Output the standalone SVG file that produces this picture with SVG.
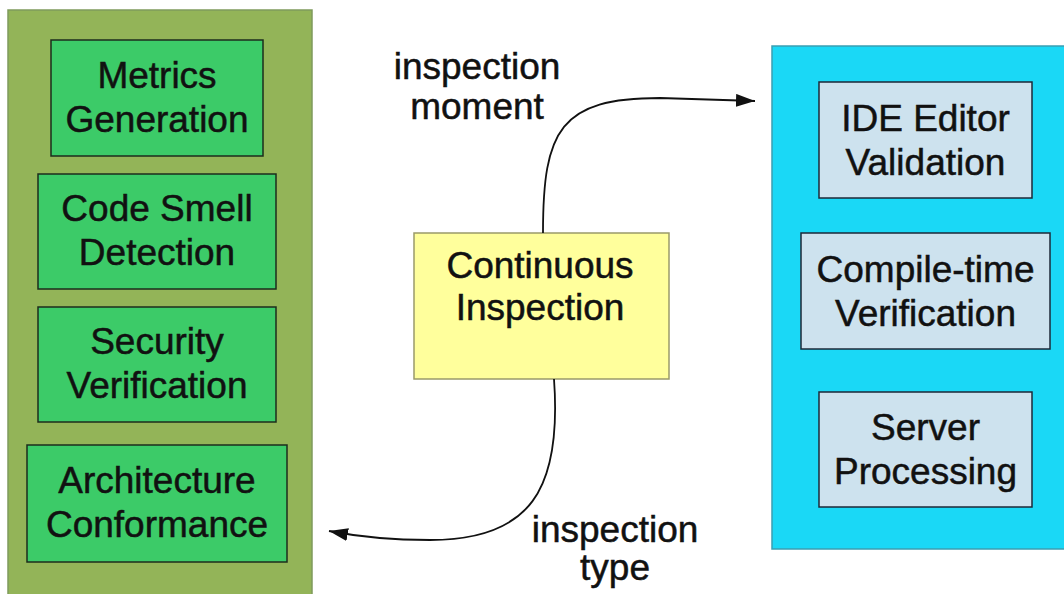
<svg xmlns="http://www.w3.org/2000/svg" width="1064" height="594" viewBox="0 0 1064 594">
  <style>
    text { font-family: "Liberation Sans", Arial, Helvetica, sans-serif; font-size: 37px; fill: #111; stroke: #111; stroke-width: 0.5; text-anchor: middle; }
    .panel-type { fill: #93b458; stroke: #7f9a5c; stroke-width: 1.5; }
    .panel-moment { fill: #1ad8f6; stroke: #3a9fb2; stroke-width: 1.5; }
    .type-box { fill: #3ccb68; stroke: #1c2c1c; stroke-width: 1.5; }
    .moment-box { fill: #cde2ee; stroke: #1c2838; stroke-width: 1.5; }
    .core-box { fill: #ffff9c; stroke: #9a9a6a; stroke-width: 1.5; }
    .conn { fill: none; stroke: #111; stroke-width: 1.8; }
  </style>
  <defs>
    <marker id="arrow" markerUnits="userSpaceOnUse" markerWidth="19" markerHeight="13" refX="19" refY="6.5" orient="auto">
      <path d="M0,0 L19,6.5 L0,13 z" fill="#111"/>
    </marker>
  </defs>

  <rect width="1064" height="594" fill="#ffffff"/>

  <!-- inspection type panel -->
  <g id="panel-inspection-type">
    <rect class="panel-type" x="8" y="10" width="304" height="600"/>
  </g>
  <g id="node-metrics">
    <rect class="type-box" x="51" y="40" width="212" height="116"/>
    <text x="157" y="88">Metrics</text>
    <text x="157" y="132">Generation</text>
  </g>
  <g id="node-code-smell">
    <rect class="type-box" x="38" y="174" width="238" height="115"/>
    <text x="157" y="221">Code Smell</text>
    <text x="157" y="265">Detection</text>
  </g>
  <g id="node-security">
    <rect class="type-box" x="38" y="307" width="238" height="115"/>
    <text x="157" y="354">Security</text>
    <text x="157" y="398">Verification</text>
  </g>
  <g id="node-architecture">
    <rect class="type-box" x="27" y="445" width="260" height="117"/>
    <text x="157" y="493">Architecture</text>
    <text x="157" y="537">Conformance</text>
  </g>

  <!-- inspection moment panel -->
  <g id="panel-inspection-moment">
    <rect class="panel-moment" x="772" y="46" width="300" height="503"/>
  </g>
  <g id="node-ide">
    <rect class="moment-box" x="819" y="82" width="213" height="116"/>
    <text x="925.5" y="131">IDE Editor</text>
    <text x="925.5" y="175">Validation</text>
  </g>
  <g id="node-compile">
    <rect class="moment-box" x="801" y="233" width="249" height="116"/>
    <text x="925.5" y="282">Compile-time</text>
    <text x="925.5" y="326">Verification</text>
  </g>
  <g id="node-server">
    <rect class="moment-box" x="819" y="392" width="213" height="115"/>
    <text x="925.5" y="440">Server</text>
    <text x="925.5" y="484">Processing</text>
  </g>

  <!-- central concept -->
  <g id="node-continuous-inspection">
    <rect class="core-box" x="414" y="233" width="255" height="146"/>
    <text x="540" y="278">Continuous</text>
    <text x="540" y="320">Inspection</text>
  </g>

  <!-- connectors -->
  <g id="connectors">
    <path class="conn" d="M543,233 C543,130 560,98 660,98 L755,101" marker-end="url(#arrow)"/>
    <path class="conn" d="M554,379 C562,490 530,540 430,540 C400,540 360,537 329,531" marker-end="url(#arrow)"/>
  </g>

  <!-- connector labels -->
  <g id="label-moment">
    <text x="477" y="79">inspection</text>
    <text x="477" y="119">moment</text>
  </g>
  <g id="label-type">
    <text x="615" y="542">inspection</text>
    <text x="615" y="580">type</text>
  </g>
</svg>
